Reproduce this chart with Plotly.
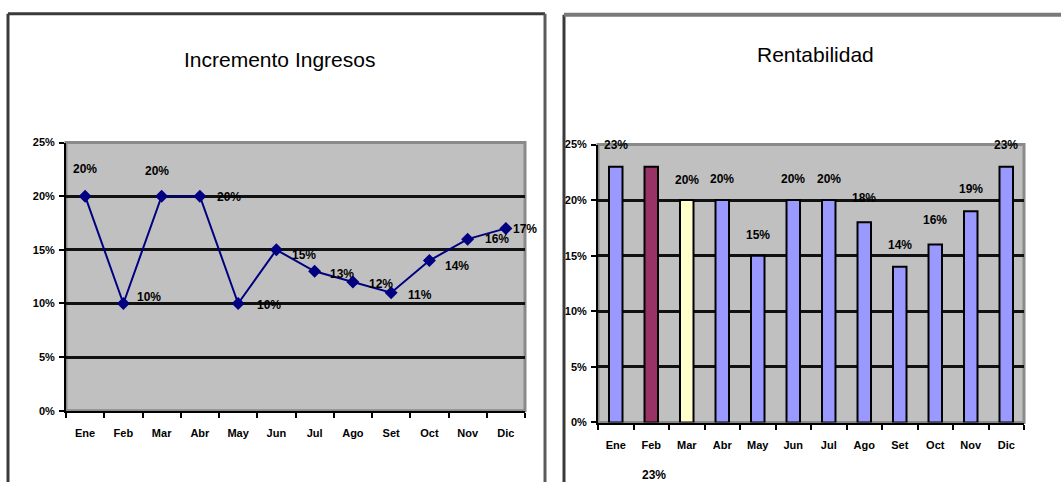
import plotly.graph_objects as go

# ---- data ----
meses = ["Ene", "Feb", "Mar", "Abr", "May", "Jun", "Jul", "Ago", "Set", "Oct", "Nov", "Dic"]
incremento_ingresos = [0.20, 0.10, 0.20, 0.20, 0.10, 0.15, 0.13, 0.12, 0.11, 0.14, 0.16, 0.17]
rentabilidad = [0.23, 0.23, 0.20, 0.20, 0.15, 0.20, 0.20, 0.18, 0.14, 0.16, 0.19, 0.23]
y_ticks = [0.00, 0.05, 0.10, 0.15, 0.20, 0.25]

# ---- styling / layout ----
W, H = 1061, 488
FONT = "Liberation Sans Narrow, Arial Narrow, Liberation Sans, Arial, sans-serif"
PLOT_BG = "#c0c0c0"
LINE_COLOR = "#000080"
BAR_COLORS = ["#9999ff", "#993366", "#ffffcc"] + ["#9999ff"] * 9

# label offsets (pixels) for the line chart labels
line_label_dx = [0, 26, -5, 29, 31, 28, 27, 28, 29, 28, 29, 19]
line_label_dy = [27, 6, 25, -1, -2, -5, -3, -2, -2, -5, 0, -1]
# bar labels sit above each bar, except Feb which is written under the axis
bar_label_dy = [22, None, 20, 21, 21, 21, 21, 24, 22, 25, 22, 22]


def px_x(p):
    return p / W


def px_y(p):
    return 1 - p / H


fig = go.Figure()

fig.add_trace(go.Scatter(
    x=meses, y=incremento_ingresos, mode="lines+markers",
    line=dict(color=LINE_COLOR, width=2),
    marker=dict(symbol="diamond", size=10, color=LINE_COLOR),
    xaxis="x", yaxis="y", showlegend=False, cliponaxis=False,
))

fig.add_trace(go.Bar(
    x=meses, y=rentabilidad, width=0.38,
    marker=dict(color=BAR_COLORS, line=dict(color="#000000", width=2)),
    xaxis="x2", yaxis="y2", showlegend=False,
))

annotations = []
lab_font = dict(family=FONT, size=12, color="#000000", weight="bold")
for m, v, dx, dy in zip(meses, incremento_ingresos, line_label_dx, line_label_dy):
    annotations.append(dict(x=m, y=v, xref="x", yref="y", text=f"{v*100:.0f}%",
                            showarrow=False, xshift=dx, yshift=dy, font=lab_font,
                            xanchor="center", yanchor="middle"))
for m, v, dy in zip(meses, rentabilidad, bar_label_dy):
    if dy is None:
        annotations.append(dict(x=m, y=0, xref="x2", yref="y2", text=f"{v*100:.0f}%",
                                showarrow=False, xshift=3, yshift=-53, font=lab_font,
                                xanchor="center", yanchor="middle"))
    else:
        annotations.append(dict(x=m, y=v, xref="x2", yref="y2", text=f"{v*100:.0f}%",
                                showarrow=False, yshift=dy, font=lab_font,
                                xanchor="center", yanchor="middle"))

title_font = dict(family=FONT, size=21, color="#000000")
annotations.append(dict(x=px_x(279), y=px_y(55), xref="paper", yref="paper",
                        text="Incremento Ingresos", showarrow=False, font=title_font,
                        xanchor="center", yanchor="middle"))
annotations.append(dict(x=px_x(815), y=px_y(50), xref="paper", yref="paper",
                        text="Rentabilidad", showarrow=False, font=title_font,
                        xanchor="center", yanchor="middle"))

tick_font = dict(family=FONT, size=11, color="#000000", weight="bold")


def xaxis_style(domain, anchor):
    return dict(domain=domain, anchor=anchor, type="category", range=[-0.5, 11.5],
                showline=True, linecolor="#000000", linewidth=2,
                ticks="outside", tickson="boundaries", ticklen=5, tickwidth=2,
                tickcolor="#000000", showgrid=False, tickfont=tick_font,
                ticklabelstandoff=11, fixedrange=True)


def yaxis_style(domain, anchor):
    return dict(domain=domain, anchor=anchor, range=[0, 0.25], tickvals=y_ticks,
                tickformat=".0%", showline=True, linecolor="#000000", linewidth=2,
                ticks="outside", ticklen=5, tickwidth=2, tickcolor="#000000",
                showgrid=True, gridcolor="#111111", gridwidth=2.5, zeroline=False,
                tickfont=tick_font, ticklabelstandoff=2, fixedrange=True)


shapes = []
# plot area backgrounds with grey border
for xr, yr in (("x domain", "y domain"), ("x2 domain", "y2 domain")):
    shapes.append(dict(type="rect", xref=xr, yref=yr, x0=0, x1=1, y0=0, y1=1,
                       fillcolor=PLOT_BG, line=dict(color="#8a8a8a", width=3), layer="below"))

# chart frames
frame = dict(color="#3a3a3a", width=3)
shapes += [
    dict(type="line", xref="paper", yref="paper", x0=px_x(8), x1=px_x(8), y0=px_y(8), y1=0, line=frame),
    dict(type="line", xref="paper", yref="paper", x0=px_x(8), x1=px_x(545), y0=px_y(8), y1=px_y(8), line=frame),
    dict(type="line", xref="paper", yref="paper", x0=px_x(545), x1=px_x(545), y0=px_y(8), y1=0,
         line=dict(color="#5a5a5a", width=3)),
    dict(type="line", xref="paper", yref="paper", x0=px_x(564), x1=px_x(564), y0=px_y(9), y1=0, line=frame),
    dict(type="line", xref="paper", yref="paper", x0=px_x(564), x1=1, y0=px_y(9), y1=px_y(9),
         line=dict(color="#7a7a7a", width=4)),
]

fig.update_layout(
    width=W, height=H, margin=dict(l=0, r=0, t=0, b=0),
    paper_bgcolor="#ffffff", plot_bgcolor=PLOT_BG,
    xaxis=xaxis_style([px_x(66), px_x(525)], "y"),
    yaxis=yaxis_style([px_y(415), px_y(140)], "x"),
    xaxis2=xaxis_style([px_x(598), px_x(1024)], "y2"),
    yaxis2=yaxis_style([px_y(427), px_y(142)], "x2"),
    annotations=annotations, shapes=shapes, bargap=0.6,
)

fig.write_html("out.html")
